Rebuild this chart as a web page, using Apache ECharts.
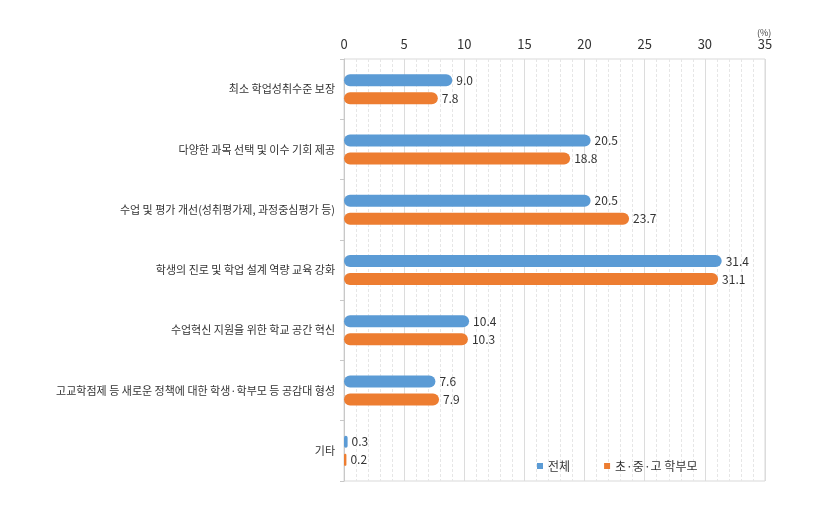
<!DOCTYPE html>
<html>
<head>
<meta charset="utf-8">
<script src="https://cdn.jsdelivr.net/npm/echarts@6/dist/echarts.min.js"></script>
<style>
  html, body { margin: 0; padding: 0; background: #fff; }
  #chart { width: 815px; height: 507px; }
</style>
</head>
<body>
<div id="chart"></div>
<script>
const categories = [
  '최소 학업성취수준 보장',
  '다양한 과목 선택 및 이수 기회 제공',
  '수업 및 평가 개선(성취평가제, 과정중심평가 등)',
  '학생의 진로 및 학업 설계 역량 교육 강화',
  '수업혁신 지원을 위한 학교 공간 혁신',
  '고교학점제 등 새로운 정책에 대한 학생·학부모 등 공감대 형성',
  '기타'
]
const totalValues = [9.0, 20.5, 20.5, 31.4, 10.4, 7.6, 0.3]
const parentValues = [7.8, 18.8, 23.7, 31.1, 10.3, 7.9, 0.2]
const seriesNames = ['전체', '초·중·고 학부모']

const font = 'Noto Sans CJK KR'
const chart = echarts.init(document.getElementById('chart'))

const barLabel = {
  show: true,
  position: 'right',
  distance: 4,
  color: '#333',
  fontSize: 12,
  fontFamily: font,
  formatter: p => p.value.toFixed(1)
}

const option = {
  animation: false,
  textStyle: { fontFamily: font },
  grid: {
    left: 344,
    right: 50,
    top: 59,
    bottom: 26,
    show: true,
    borderColor: '#d9d9d9',
    borderWidth: 1
  },
  legend: {
    left: 532,
    top: 455,
    icon: 'rect',
    itemWidth: 6,
    itemHeight: 6,
    itemGap: 34,
    textStyle: { fontSize: 12, color: '#333', fontFamily: font },
    data: seriesNames
  },
  xAxis: {
    type: 'value',
    position: 'top',
    min: 0,
    max: 35,
    interval: 5,
    name: '(%)',
    nameLocation: 'end',
    nameGap: 0,
    nameTextStyle: { fontSize: 9, color: '#444', padding: [0, 0, 22, -8], verticalAlign: 'bottom' },
    axisLine: { show: false },
    axisTick: { show: false },
    axisLabel: { color: '#333', fontSize: 13, margin: 8 },
    splitLine: { show: true, lineStyle: { color: '#dcdcdc', width: 1 } },
    minorTick: { show: false, splitNumber: 5 },
    minorSplitLine: { show: true, lineStyle: { color: '#e6e6e6', type: [3, 2], width: 1 } }
  },
  yAxis: {
    type: 'category',
    inverse: true,
    data: categories,
    axisLine: { show: true, lineStyle: { color: '#c8c8c8' } },
    axisTick: { show: true, length: 4, lineStyle: { color: '#c8c8c8' } },
    axisLabel: { color: '#333', fontSize: 11, margin: 9 }
  },
  series: [
    {
      name: seriesNames[0],
      type: 'bar',
      data: totalValues,
      barWidth: 12,
      barGap: '50%',
      itemStyle: { color: '#5B9BD5', borderRadius: 6 },
      label: barLabel
    },
    {
      name: seriesNames[1],
      type: 'bar',
      data: parentValues,
      barWidth: 12,
      itemStyle: { color: '#ED7D31', borderRadius: 6 },
      label: barLabel
    }
  ]
}

chart.setOption(option)
</script>
</body>
</html>
